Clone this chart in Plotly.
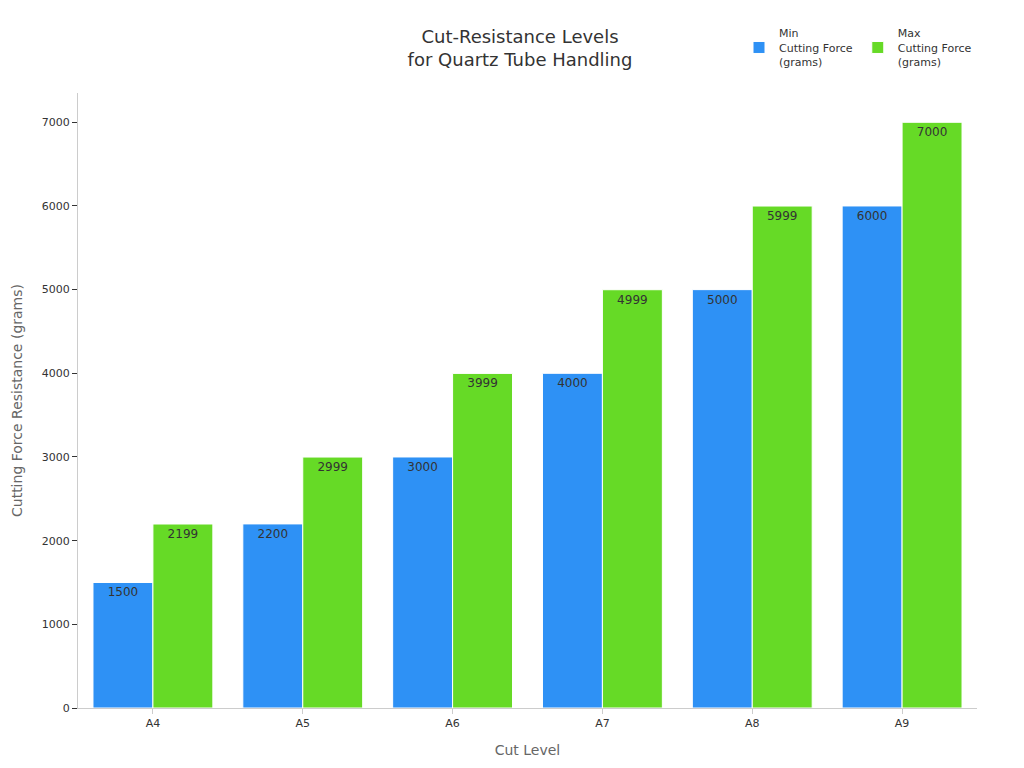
import plotly.graph_objects as go

# data
levels = ["A4", "A5", "A6", "A7", "A8", "A9"]
min_force = [1500, 2200, 3000, 4000, 5000, 6000]
max_force = [2199, 2999, 3999, 4999, 5999, 7000]

fig = go.Figure()
fig.add_trace(go.Bar(
    x=levels, y=min_force, name="Min<br>Cutting Force<br>(grams)",
    marker=dict(color="#2E91F5", line=dict(color="white", width=1)),
    text=min_force, textposition="inside", insidetextanchor="end",
    textfont=dict(color="#333333", size=12),
))
fig.add_trace(go.Bar(
    x=levels, y=max_force, name="Max<br>Cutting Force<br>(grams)",
    marker=dict(color="#66DA26", line=dict(color="white", width=1)),
    text=max_force, textposition="inside", insidetextanchor="end",
    textfont=dict(color="#333333", size=12),
))

fig.update_layout(
    width=1024, height=768,
    font=dict(family="DejaVu Sans", size=11, color="#333333"),
    title=dict(text="Cut-Resistance Levels<br>for Quartz Tube Handling",
               x=0.5, xanchor="center", y=0.955, font=dict(size=18)),
    plot_bgcolor="white", paper_bgcolor="white",
    barmode="group", bargap=0.2, bargroupgap=0,
    margin=dict(l=70, r=55, t=85, b=68, autoexpand=False),
    legend=dict(orientation="h", x=1.0, xanchor="right", yref="container",
                y=0.985, yanchor="top", font=dict(size=11)),
    uniformtext=dict(minsize=12, mode="show"),
)
fig.update_xaxes(title=dict(text="Cut Level", font=dict(color="#666666", size=14)),
                 showline=True, linecolor="#cccccc", ticks="outside",
                 tickcolor="#cccccc", ticklen=5)
fig.update_yaxes(title=dict(text="Cutting Force Resistance (grams)",
                            font=dict(color="#666666", size=14)),
                 range=[0, 7350], dtick=1000, showgrid=False,
                 showline=True, linecolor="#cccccc", ticks="outside",
                 tickcolor="#333333", ticklen=5, zeroline=False)

fig.write_html("out.html")
